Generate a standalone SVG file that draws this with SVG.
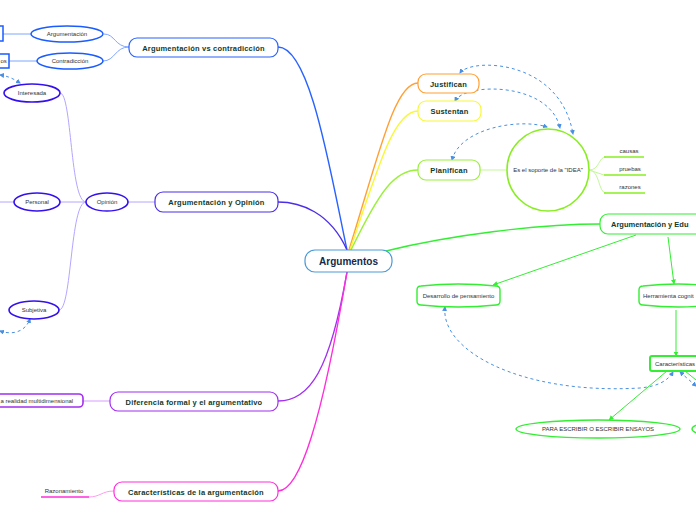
<svg xmlns="http://www.w3.org/2000/svg" width="696" height="520" viewBox="0 0 696 520">
<defs>
<style>
.t{font-family:"Liberation Sans",Arial,sans-serif;font-weight:bold;font-size:7.5px;fill:#103a2c;text-anchor:middle;letter-spacing:0.2px}
.s{font-family:"Liberation Sans",Arial,sans-serif;font-size:6px;fill:#333;text-anchor:middle}
.c{fill:none;stroke-width:1.4}
.d{fill:none;stroke:#4a90e2;stroke-width:1;stroke-dasharray:3 3;marker-start:url(#ab);marker-end:url(#ab)}
.g{fill:none;stroke:#33ee33;stroke-width:1;marker-end:url(#ag)}
</style>
<marker id="ab" viewBox="0 0 10 10" refX="8" refY="5" markerWidth="5" markerHeight="5" orient="auto-start-reverse"><path d="M0,0 L10,5 L0,10 Z" fill="#4a90e2"/></marker>
<marker id="ag" viewBox="0 0 10 10" refX="9" refY="5" markerWidth="5" markerHeight="5" orient="auto"><path d="M0,0 L10,5 L0,10 Z" fill="#33ee33"/></marker>
</defs>
<rect width="696" height="520" fill="#fff"/>
<g id="connectors">
<path class="c" stroke="#2962ff" d="M347,250 C330,170 310,47 278,47"/>
<path class="c" stroke="#4a2ee8" d="M347,250 C330,212 300,202 278,202"/>
<path class="c" stroke="#a22ef0" d="M347,272 C330,370 310,401 278,401"/>
<path class="c" stroke="#ff2edb" d="M347,272 C322,420 300,491 278,491"/>
<path class="c" stroke="#ffa035" d="M349,250 C380,150 395,83 418,83"/>
<path class="c" stroke="#f8f83a" d="M350,250 C380,160 395,111 418,111"/>
<path class="c" stroke="#9af03a" d="M351,250 C380,190 395,170 418,170"/>
<path class="c" stroke="#33ee33" d="M386,251 C450,235 540,224 600,224"/>
<path fill="none" stroke="#7fa6ff" stroke-width="1" d="M129,47 C115,47 115,34 104,34 M129,47 C115,47 115,61 103,61"/>
<path fill="none" stroke="#7fa6ff" stroke-width="1" d="M3,34 L31,34 M9,61 L37,61"/>
<path fill="none" stroke="#b3a6ff" stroke-width="1" d="M155,202 L128,202 M86,202 L60,202 M14,202 L0,202 M86,202 C70,202 72,93 60,93 M86,202 C70,202 72,310 59,310"/>
<path fill="none" stroke="#d79cff" stroke-width="1" d="M83,401 L110,401"/>
<path fill="none" stroke="#ff9cee" stroke-width="1" d="M89,497 C100,497 102,491 114,491"/>
<path fill="none" stroke="#c4f79a" stroke-width="1" d="M480,170 L507,170 M589,170 C600,170 598,157 606,157 M589,170 L604,175 M589,170 C600,170 598,193 606,193"/>
<path class="d" d="M0,75 C8,76 14,79 20,83"/>
<path class="d" d="M0,331 C15,336 26,330 30,319"/>
<path class="d" d="M460,73 C470,58 560,58 573,134"/>
<path class="d" d="M455,101 C465,82 550,82 560,128"/>
<path class="d" d="M452,160 C460,128 520,118 547,127"/>
<path class="d" d="M445,307 C440,350 520,395 640,388 C660,386 668,380 673,372"/>
<path class="d" d="M680,372 L696,386"/>
<path class="g" d="M636,235 L493,285"/>
<path class="g" d="M668,237 L674,284"/>
<path class="g" d="M676,310 L676,356"/>
<path class="g" d="M667,371 L609,420"/>
<path fill="none" stroke="#33ee33" stroke-width="1" d="M685,371 L696,380"/>
</g>
<g id="n-central"><rect x="305" y="250" width="87" height="22" rx="10" fill="#fff" stroke="#4a9ad8" stroke-width="1.2"/><text x="348.5" y="265" style="font-family:'Liberation Sans',Arial,sans-serif;font-weight:bold;font-size:10px;fill:#132a4a" text-anchor="middle">Argumentos</text></g>
<g id="n-vs"><rect x="129" y="38" width="149" height="19" rx="8" fill="#fff" stroke="#2962ff" stroke-width="1.2"/><text class="t" x="203.5" y="50.5">Argumentación vs contradicción</text></g>
<g id="n-argumentacion"><ellipse cx="67" cy="34" rx="36" ry="8" fill="#fff" stroke="#1a5cff" stroke-width="1.5"/><text class="s" x="67" y="36">Argumentación</text></g>
<g id="n-contradiccion"><ellipse cx="70" cy="61" rx="33" ry="8" fill="#fff" stroke="#1a5cff" stroke-width="1.5"/><text class="s" x="70" y="63">Contradicción</text></g>
<g id="n-left1"><rect x="-10" y="26" width="13" height="15" fill="#fff" stroke="#1a5cff" stroke-width="1.5"/></g>
<g id="n-left2"><rect x="-10" y="54" width="19" height="14" fill="#fff" stroke="#1a5cff" stroke-width="1.5"/><text class="s" x="0.5" y="63" style="text-anchor:start">os</text></g>
<g id="n-opinion-main"><rect x="155" y="192" width="123" height="20" rx="8" fill="#fff" stroke="#4a2ee8" stroke-width="1.2"/><text class="t" x="216.5" y="205">Argumentación y Opinión</text></g>
<g id="n-opinion"><ellipse cx="107" cy="202" rx="21" ry="9" fill="#fff" stroke="#3311ee" stroke-width="1.6"/><text class="s" x="107" y="204">Opinión</text></g>
<g id="n-interesada"><ellipse cx="32" cy="93" rx="28" ry="9" fill="#fff" stroke="#3311ee" stroke-width="1.6"/><text class="s" x="32" y="95">Interesada</text></g>
<g id="n-personal"><ellipse cx="37" cy="202" rx="23" ry="9" fill="#fff" stroke="#3311ee" stroke-width="1.6"/><text class="s" x="37" y="204">Personal</text></g>
<g id="n-subjetiva"><ellipse cx="34" cy="310" rx="25" ry="9" fill="#fff" stroke="#3311ee" stroke-width="1.6"/><text class="s" x="34" y="312">Subjetiva</text></g>
<g id="n-diferencia"><rect x="110" y="392" width="168" height="19" rx="8" fill="#fff" stroke="#a22ef0" stroke-width="1.2"/><text class="t" x="194" y="404.5">Diferencia formal y el argumentativo</text></g>
<g id="n-realidad"><rect x="-10" y="394" width="93" height="13" rx="4" fill="#fff" stroke="#a22ef0" stroke-width="1.6"/><text class="s" x="0.5" y="403" style="text-anchor:start">a realidad multidimensional</text></g>
<g id="n-caracteristicas-arg"><rect x="114" y="482" width="164" height="19" rx="8" fill="#fff" stroke="#ff2edb" stroke-width="1.2"/><text class="t" x="196" y="494.5">Características de la argumentación</text></g>
<g id="n-razonamiento"><line x1="41" y1="497" x2="89" y2="497" stroke="#ff2edb" stroke-width="1.4"/><text class="s" x="64" y="493">Razonamiento</text></g>
<g id="n-justifican"><rect x="418" y="74" width="61" height="19" rx="8" fill="#fff" stroke="#ffa035" stroke-width="1.2"/><text class="t" x="448.5" y="86.5">Justifican</text></g>
<g id="n-sustentan"><rect x="418" y="101" width="63" height="20" rx="8" fill="#fff" stroke="#f8f83a" stroke-width="1.2"/><text class="t" x="449.5" y="114">Sustentan</text></g>
<g id="n-planifican"><rect x="418" y="160" width="62" height="20" rx="8" fill="#fff" stroke="#9af03a" stroke-width="1.2"/><text class="t" x="449" y="173">Planifican</text></g>
<g id="n-idea"><circle cx="548" cy="170" r="41" fill="#fff" stroke="#88ee22" stroke-width="1.6"/><text class="s" x="548" y="172">Es el soporte de la "IDEA"</text></g>
<g id="n-causas"><line x1="604" y1="157" x2="644" y2="157" stroke="#88ee22" stroke-width="1.4"/><text class="s" x="629" y="153">causas</text></g>
<g id="n-pruebas"><line x1="604" y1="175" x2="646" y2="175" stroke="#88ee22" stroke-width="1.4"/><text class="s" x="630" y="171">pruebas</text></g>
<g id="n-razones"><line x1="604" y1="193" x2="645" y2="193" stroke="#88ee22" stroke-width="1.4"/><text class="s" x="630" y="189">razones</text></g>
<g id="n-educacion"><rect x="600" y="214" width="110" height="20" rx="8" fill="#fff" stroke="#33ee33" stroke-width="1.2"/><text class="t" x="611" y="227" style="text-anchor:start;letter-spacing:0">Argumentación y Edu</text></g>
<g id="n-desarrollo"><path d="M421,286 Q458,282 496,286 Q500,286 500,290 L500,301 Q500,305 496,305 Q458,309 421,305 Q417,305 417,301 L417,290 Q417,286 421,286 Z" fill="#fff" stroke="#33ee33" stroke-width="1.4"/><text class="s" x="458.5" y="298">Desarrollo de pensamiento</text></g>
<g id="n-herramienta"><path d="M643,286 Q680,282 710,286 L710,305 Q680,309 643,305 Q639,305 639,301 L639,290 Q639,286 643,286 Z" fill="#fff" stroke="#33ee33" stroke-width="1.4"/><text class="s" x="643" y="298" style="text-anchor:start">Herramienta cognit</text></g>
<g id="n-caracteristicas"><rect x="650" y="356" width="60" height="15" rx="2" fill="#fff" stroke="#33ee33" stroke-width="2"/><text class="s" x="655" y="366" style="text-anchor:start">Características</text></g>
<g id="n-ensayos"><ellipse cx="598" cy="429" rx="82" ry="9" fill="#fff" stroke="#33ee33" stroke-width="1.4"/><text class="s" x="598" y="431">PARA ESCRIBIR O ESCRIBIR ENSAYOS</text></g>
<g id="n-ellipse2"><ellipse cx="740" cy="429" rx="48" ry="9" fill="#fff" stroke="#33ee33" stroke-width="1.4"/></g>
</svg>
